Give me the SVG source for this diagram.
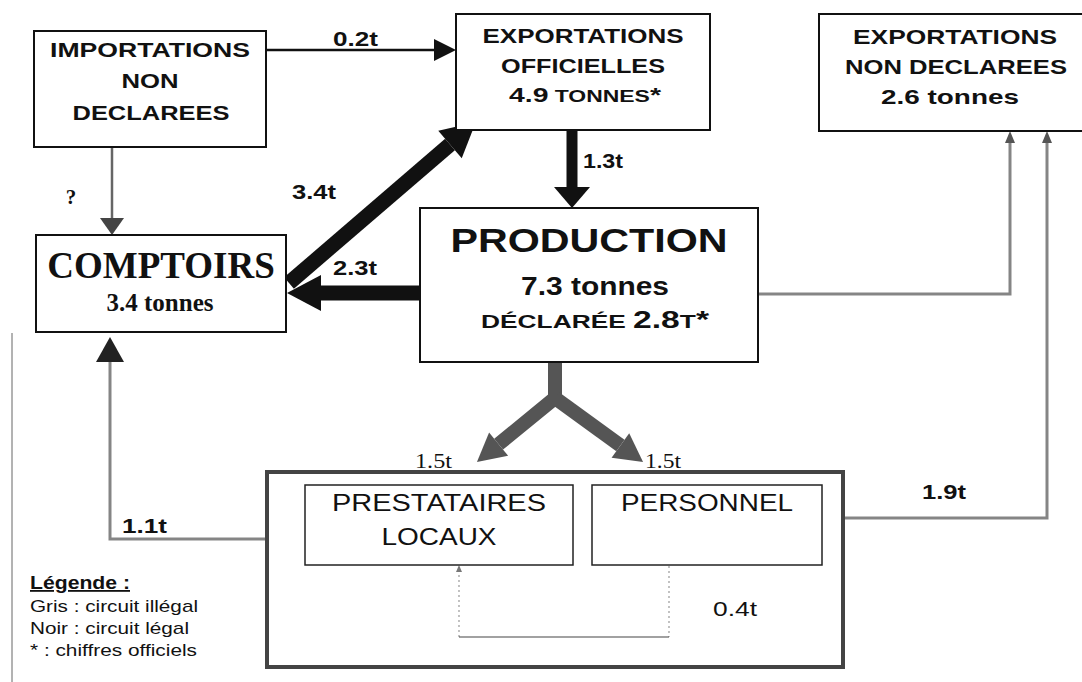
<svg xmlns="http://www.w3.org/2000/svg" width="1082" height="682" viewBox="0 0 1082 682">
<style>
.box{fill:#fff;stroke:#111;stroke-width:2}
.ibox{fill:#fff;stroke:#222;stroke-width:1.5}
.sb{font-family:"Liberation Sans",Arial,sans-serif;font-weight:bold;fill:#111}
.sr{font-family:"Liberation Sans",Arial,sans-serif;font-weight:normal;fill:#111}
.tb{font-family:"Liberation Serif","Times New Roman",serif;font-weight:bold;fill:#111}
.tr{font-family:"Liberation Serif","Times New Roman",serif;font-weight:normal;fill:#111}
.c{text-anchor:middle}
.blk{fill:none;stroke:#111}
.gry{fill:none;stroke:#858585;stroke-width:3}
</style>
<defs>
<marker id="aThin" markerUnits="userSpaceOnUse" markerWidth="22" markerHeight="22" refX="0" refY="11" orient="auto" overflow="visible"><path d="M0,0 L22,11 L0,22 z" fill="#111"/></marker>
<marker id="aThick" markerUnits="userSpaceOnUse" markerWidth="34" markerHeight="36" refX="0" refY="18" orient="auto" overflow="visible"><path d="M0,0 L34,18 L0,36 z" fill="#111"/></marker>
<marker id="aDown" markerUnits="userSpaceOnUse" markerWidth="21" markerHeight="36" refX="0" refY="18" orient="auto" overflow="visible"><path d="M0,0 L21,18 L0,36 z" fill="#111"/></marker>
<marker id="aQ" markerUnits="userSpaceOnUse" markerWidth="17" markerHeight="24" refX="0" refY="12" orient="auto" overflow="visible"><path d="M0,0 L17,12 L0,24 z" fill="#444"/></marker>
<marker id="aUp" markerUnits="userSpaceOnUse" markerWidth="25" markerHeight="28" refX="0" refY="14" orient="auto" overflow="visible"><path d="M0,0 L25,14 L0,28 z" fill="#222"/></marker>
<marker id="aSmall" markerUnits="userSpaceOnUse" markerWidth="12" markerHeight="10" refX="0" refY="5" orient="auto" overflow="visible"><path d="M0,0 L12,5 L0,10 z" fill="#555"/></marker>
<marker id="aGrey" markerUnits="userSpaceOnUse" markerWidth="28" markerHeight="30" refX="0" refY="15" orient="auto" overflow="visible"><path d="M0,0 L28,15 L0,30 z" fill="#555"/></marker>
<marker id="aTiny" markerUnits="userSpaceOnUse" markerWidth="7" markerHeight="6" refX="0" refY="3" orient="auto" overflow="visible"><path d="M0,0 L7,3 L0,6 z" fill="#777"/></marker>
</defs>
<rect width="1082" height="682" fill="#fff"/>
<line x1="12" y1="333" x2="12" y2="682" stroke="#666" stroke-width="1"/>

<g id="connectors">
<path class="blk" d="M266,50 H434" stroke-width="2.5" marker-end="url(#aThin)"/>
<path d="M112,147 V218" fill="none" stroke="#666" stroke-width="2.5" marker-end="url(#aQ)"/>
<path class="blk" d="M289,283 L450,144.5" stroke-width="15" marker-end="url(#aThick)"/>
<path class="blk" d="M572,130 V187" stroke-width="11" marker-end="url(#aDown)"/>
<path class="blk" d="M420,293 H321" stroke-width="15" marker-end="url(#aThick)"/>
<path class="gry" d="M758,294 H1010 V143" marker-end="url(#aSmall)"/>
<path class="gry" d="M843,518 H1047 V143" marker-end="url(#aSmall)"/>
<path class="gry" d="M267,539 H110 V362" marker-end="url(#aUp)"/>
<path d="M555,362 V398 L498.6,444.2" fill="none" stroke="#555" stroke-width="14" stroke-linejoin="round" marker-end="url(#aGrey)"/>
<path d="M555,398 L620.4,445.5" fill="none" stroke="#555" stroke-width="14" marker-end="url(#aGrey)"/>
<path d="M669,566 V637 M459,637 V572" fill="none" stroke="#999" stroke-width="1.2" stroke-dasharray="2 3" marker-end="url(#aTiny)"/>
<path d="M459,637 H669" fill="none" stroke="#444" stroke-width="1.2"/>
<text class="sb" x="333" y="46" font-size="21" textLength="45" lengthAdjust="spacingAndGlyphs">0.2t</text>
<text class="tb c" x="71" y="204" font-size="21">?</text>
<text class="sb" x="292" y="199" font-size="21" textLength="44" lengthAdjust="spacingAndGlyphs">3.4t</text>
<text class="sb" x="583" y="168" font-size="21" textLength="40" lengthAdjust="spacingAndGlyphs">1.3t</text>
<text class="sb" x="333" y="275" font-size="21" textLength="44" lengthAdjust="spacingAndGlyphs">2.3t</text>
<text class="sb" x="922" y="499" font-size="21" textLength="44" lengthAdjust="spacingAndGlyphs">1.9t</text>
<text class="sb" x="122" y="533" font-size="21" textLength="45" lengthAdjust="spacingAndGlyphs">1.1t</text>
<text class="sr" x="713" y="616" font-size="21" textLength="44" lengthAdjust="spacingAndGlyphs">0.4t</text>
<text class="tr" x="415" y="468" font-size="21" textLength="37" lengthAdjust="spacingAndGlyphs">1.5t</text>
<text class="tr" x="645" y="468" font-size="21" textLength="36" lengthAdjust="spacingAndGlyphs">1.5t</text>
</g>

<g id="importations">
<rect class="box" x="34" y="31" width="232" height="116"/>
<text class="sb c" x="150" y="57" font-size="21" textLength="200" lengthAdjust="spacingAndGlyphs">IMPORTATIONS</text>
<text class="sb c" x="150" y="88" font-size="21" textLength="57" lengthAdjust="spacingAndGlyphs">NON</text>
<text class="sb c" x="151" y="120" font-size="21" textLength="157" lengthAdjust="spacingAndGlyphs">DECLAREES</text>
</g>

<g id="exportations-officielles">
<rect class="box" x="456" y="14" width="254" height="116"/>
<text class="sb c" x="583" y="43" font-size="21" textLength="201" lengthAdjust="spacingAndGlyphs">EXPORTATIONS</text>
<text class="sb c" x="583" y="73" font-size="21" textLength="164" lengthAdjust="spacingAndGlyphs">OFFICIELLES</text>
<text class="sb c" x="585" y="102" font-size="21" textLength="152" lengthAdjust="spacingAndGlyphs">4.9<tspan font-size="17"> TONNES</tspan>*</text>
</g>

<g id="exportations-non-declarees">
<rect class="box" x="819" y="14" width="272" height="117"/>
<text class="sb c" x="955" y="44" font-size="21" textLength="204" lengthAdjust="spacingAndGlyphs">EXPORTATIONS</text>
<text class="sb c" x="956" y="74" font-size="21" textLength="222" lengthAdjust="spacingAndGlyphs">NON DECLAREES</text>
<text class="sb c" x="950" y="104" font-size="21" textLength="138" lengthAdjust="spacingAndGlyphs">2.6 tonnes</text>
</g>

<g id="comptoirs">
<rect class="box" x="36" y="235" width="250" height="97"/>
<text class="tb c" x="161" y="278" font-size="37">COMPTOIRS</text>
<text class="tb c" x="160" y="311" font-size="25">3.4 tonnes</text>
</g>

<g id="production">
<rect class="box" x="420" y="208" width="338" height="154"/>
<text class="sb c" x="589" y="252" font-size="33" textLength="277" lengthAdjust="spacingAndGlyphs">PRODUCTION</text>
<text class="sb c" x="595" y="295" font-size="26" textLength="148" lengthAdjust="spacingAndGlyphs">7.3 tonnes</text>
<text class="sb c" x="595" y="328" font-size="23" textLength="228" lengthAdjust="spacingAndGlyphs"><tspan font-size="18">DÉCLARÉE </tspan>2.8<tspan font-size="18">T</tspan>*</text>
</g>

<g id="destinataires">
<rect x="267" y="472" width="576" height="195" fill="none" stroke="#444" stroke-width="4"/>
</g>

<g id="prestataires-locaux">
<rect class="ibox" x="305" y="485" width="268" height="80"/>
<text class="sr c" x="439" y="511" font-size="23" textLength="214" lengthAdjust="spacingAndGlyphs">PRESTATAIRES</text>
<text class="sr c" x="439" y="545" font-size="23" textLength="115" lengthAdjust="spacingAndGlyphs">LOCAUX</text>
</g>

<g id="personnel">
<rect class="ibox" x="592" y="485" width="230" height="80"/>
<text class="sr c" x="707" y="511" font-size="23" textLength="172" lengthAdjust="spacingAndGlyphs">PERSONNEL</text>
</g>

<g id="legende">
<text class="sb" x="30" y="589" font-size="18" textLength="100" lengthAdjust="spacingAndGlyphs" text-decoration="underline">Légende :</text>
<text class="sr" x="30" y="612" font-size="17" textLength="168" lengthAdjust="spacingAndGlyphs">Gris : circuit illégal</text>
<text class="sr" x="30" y="634" font-size="17" textLength="159" lengthAdjust="spacingAndGlyphs">Noir : circuit légal</text>
<text class="sr" x="30" y="656" font-size="17" textLength="167" lengthAdjust="spacingAndGlyphs">* : chiffres officiels</text>
</g>
</svg>
